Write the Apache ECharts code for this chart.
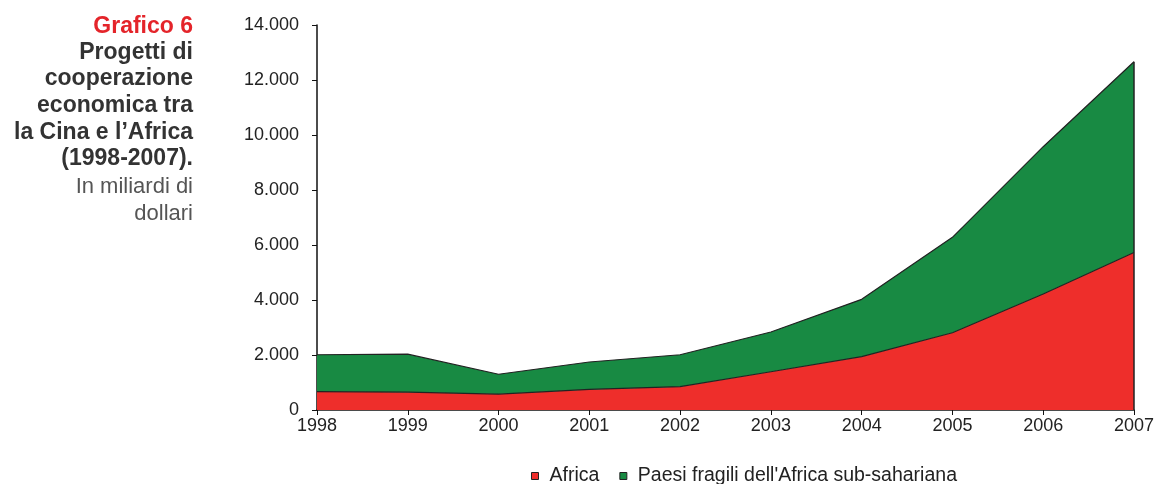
<!DOCTYPE html>
<html><head><meta charset="utf-8">
<script src="https://cdn.jsdelivr.net/npm/echarts@6/dist/echarts.min.js"></script>
<style>html,body{margin:0;padding:0;background:#fff}#c{width:1157px;height:484px}</style>
</head><body><div id="c"></div>
<script>
const years = ['1998','1999','2000','2001','2002','2003','2004','2005','2006','2007'];
const africa = [670, 650, 580, 750, 850, 1390, 1940, 2810, 4220, 5730];
const paesiFragili = [1340, 1380, 720, 995, 1160, 1446, 2084, 3470, 5355, 6935];
const yTickValues = [0, 2000, 4000, 6000, 8000, 10000, 12000, 14000];
const yTickLabels = ['0', '2.000', '4.000', '6.000', '8.000', '10.000', '12.000', '14.000'];
const seriesNames = ['Africa', "Paesi fragili dell'Africa sub-sahariana"];
const titleLines = ['Progetti di', 'cooperazione', 'economica tra', 'la Cina e l\u2019Africa', '(1998-2007).'];
const subtitleLines = ['In miliardi di', 'dollari'];

const FONT = '"Liberation Sans", Arial, Helvetica, sans-serif';
const chart = echarts.init(document.getElementById('c'), null, {renderer: 'canvas'});

const graphics = [];
graphics.push({type:'text', right: 1157-193, top: 15, style:{text:'Grafico 6', font:'bold 23px ' + FONT, fill:'#e4242a', textAlign:'right'}});
titleLines.forEach((t,i)=>graphics.push({type:'text', right: 1157-193, top: 41 + i*26.6, style:{text:t, font:'bold 23px ' + FONT, fill:'#333', textAlign:'right'}}));
subtitleLines.forEach((t,i)=>graphics.push({type:'text', right: 1157-193, top: 176 + i*26.8, style:{text:t, font:'22px ' + FONT, fill:'#555', textAlign:'right'}}));

const total2007 = africa[africa.length-1] + paesiFragili[paesiFragili.length-1];

chart.setOption({
  animation: false,
  textStyle: {fontFamily: FONT},
  grid: {left: 317, right: 23, top: 25, bottom: 74},
  legend: {
    left: 526, top: 461, icon: 'rect', itemWidth: 7, itemHeight: 7, itemGap: 20,
    textStyle: {fontSize: 19.5, color: '#222', fontFamily: FONT, padding: [0, 0, 0, 6]},
    data: seriesNames.map(n => ({name: n, itemStyle: {borderColor: '#222', borderWidth: 1}}))
  },
  xAxis: {
    type: 'category', data: years, boundaryGap: false,
    axisLine: {lineStyle: {color: '#111', width: 1.5}},
    axisTick: {show: true, length: 5, lineStyle: {color: '#111'}},
    axisLabel: {fontSize: 18, color: '#222', margin: 7, fontFamily: FONT}
  },
  yAxis: {
    type: 'value', min: 0, max: 14000, interval: 2000,
    axisLine: {show: true, lineStyle: {color: '#111', width: 1.5}},
    axisTick: {show: true, inside: false, length: 5, lineStyle: {color: '#111'}},
    splitLine: {show: false},
    axisLabel: {fontSize: 18, color: '#222', margin: 18, fontFamily: FONT, padding: [0, 0, 2, 0],
      formatter: v => yTickLabels[yTickValues.indexOf(v)]}
  },
  graphic: graphics,
  series: [
    {name: seriesNames[0], type: 'line', stack: 'tot', data: africa, symbol: 'none',
     lineStyle: {color: '#222', width: 1.2}, itemStyle: {color: '#ee2e2b'},
     areaStyle: {color: '#ee2e2b', opacity: 1}},
    {name: seriesNames[1], type: 'line', stack: 'tot', data: paesiFragili, symbol: 'none',
     lineStyle: {color: '#222', width: 1.2}, itemStyle: {color: '#188a43'},
     areaStyle: {color: '#188a43', opacity: 1},
     markLine: {silent: true, symbol: 'none', label: {show: false},
       lineStyle: {color: '#222', width: 1.5, type: 'solid'},
       data: [[{coord: [years[years.length-1], 0]}, {coord: [years[years.length-1], total2007]}]]}}
  ]
});
</script></body></html>
